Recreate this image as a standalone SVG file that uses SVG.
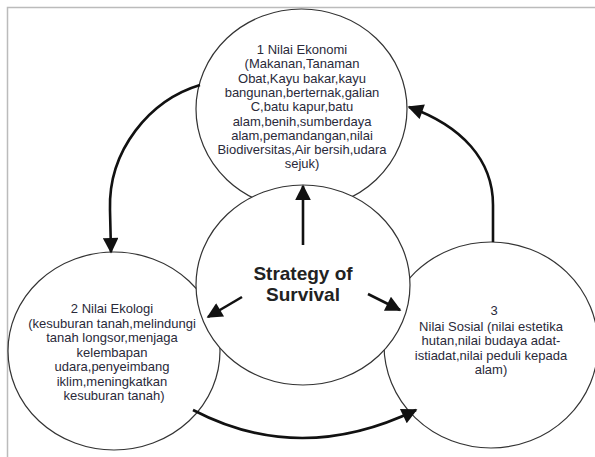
<svg xmlns="http://www.w3.org/2000/svg" width="595" height="457" viewBox="0 0 595 457">
<style>
.node{fill:#fff;stroke:#333;stroke-width:1.2}
.t{font-family:"Liberation Sans",Arial,sans-serif;font-size:13px;fill:#2a2a3a;text-anchor:middle}
.b{font-family:"Liberation Sans",Arial,sans-serif;font-size:19px;font-weight:bold;fill:#222;text-anchor:middle}
.c{fill:none;stroke:#111;stroke-width:2.6}
</style>
<defs>
<marker id="ah" viewBox="0 0 10 10" refX="9" refY="5" markerWidth="7" markerHeight="6" markerUnits="strokeWidth" orient="auto">
<path d="M0,0 L10,5 L0,10 z" fill="#111"/>
</marker>
</defs>
<rect x="0" y="0" width="595" height="457" fill="#fff"/>
<path d="M7.5,457 V7.5 H595" fill="none" stroke="#bbb" stroke-width="1.5"/>
<g id="node-ekonomi">
<ellipse class="node" cx="301.5" cy="109" rx="105.5" ry="100"/>
<text class="t"><tspan x="302" y="54">1 Nilai Ekonomi</tspan><tspan x="302" y="68.3">(Makanan,Tanaman</tspan><tspan x="302" y="82.6">Obat,Kayu bakar,kayu</tspan><tspan x="302" y="96.9">bangunan,berternak,galian</tspan><tspan x="302" y="111.2">C,batu kapur,batu</tspan><tspan x="302" y="125.5">alam,benih,sumberdaya</tspan><tspan x="302" y="139.8">alam,pemandangan,nilai</tspan><tspan x="302" y="154.1">Biodiversitas,Air bersih,udara</tspan><tspan x="302" y="168.4">sejuk)</tspan></text>
</g>
<g id="node-ekologi">
<ellipse class="node" cx="114" cy="351" rx="106" ry="99"/>
<text class="t"><tspan x="112" y="313">2 Nilai Ekologi</tspan><tspan x="112" y="327.5">(kesuburan tanah,melindungi</tspan><tspan x="112" y="342">tanah longsor,menjaga</tspan><tspan x="112" y="356.5">kelembapan</tspan><tspan x="112" y="371">udara,penyeimbang</tspan><tspan x="112" y="385.5">iklim,meningkatkan</tspan><tspan x="114" y="400">kesuburan tanah)</tspan></text>
</g>
<g id="node-sosial">
<ellipse class="node" cx="491" cy="345" rx="107" ry="103"/>
<text class="t"><tspan x="494" y="315">3</tspan><tspan x="491" y="330.5">Nilai Sosial (nilai estetika</tspan><tspan x="491" y="345">hutan,nilai budaya adat-</tspan><tspan x="491" y="359.5">istiadat,nilai peduli kepada</tspan><tspan x="491" y="374">alam)</tspan></text>
</g>
<g id="node-strategy">
<ellipse class="node" cx="303" cy="285" rx="107" ry="100"/>
<text class="b"><tspan x="303" y="280">Strategy of</tspan><tspan x="303" y="301">Survival</tspan></text>
</g>
<g id="connectors">
<path class="c" d="M200,85 C150,100 108,150 110,210 L111,252" marker-end="url(#ah)"/>
<path class="c" d="M493,242 L493,205 C493,160 462,126 409,107" marker-end="url(#ah)"/>
<path class="c" d="M193,410 Q300,466 416,410" marker-end="url(#ah)"/>
<path class="c" d="M303,245 L303,186" marker-end="url(#ah)"/>
<path class="c" d="M242,297 L208,317" marker-end="url(#ah)"/>
<path class="c" d="M368,294 L400,310" marker-end="url(#ah)"/>
</g>
</svg>
